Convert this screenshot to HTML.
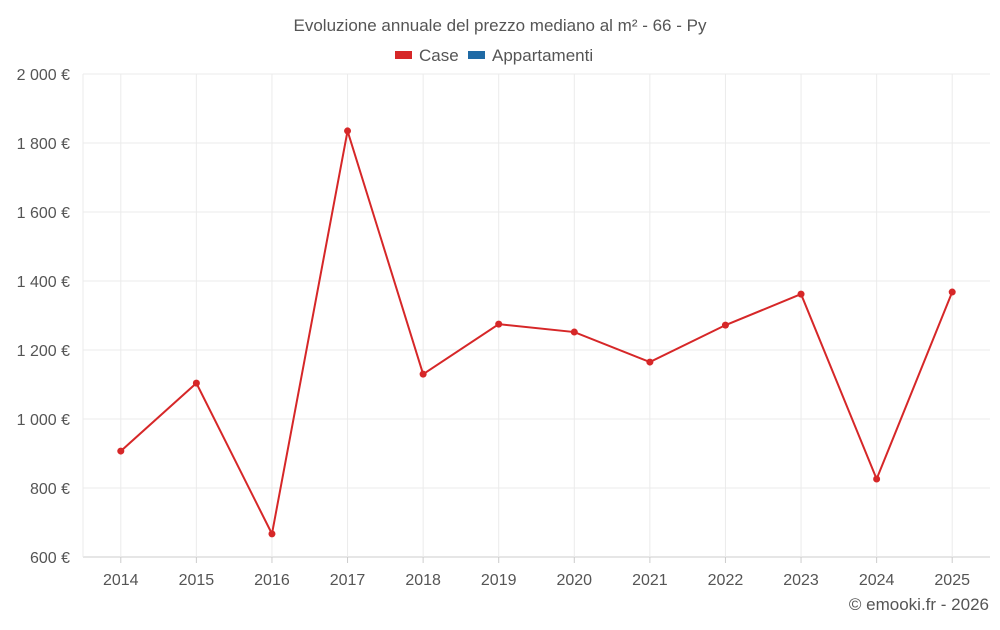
<!DOCTYPE html>
<html><head><meta charset="utf-8"><style>
body{margin:0;background:#fff;width:1000px;height:625px;overflow:hidden;font-family:"Liberation Sans",sans-serif}
</style></head><body>
<svg id="chart" width="1000" height="625" xmlns="http://www.w3.org/2000/svg" font-family="Liberation Sans, sans-serif">
<text x="500" y="31" text-anchor="middle" font-size="17" fill="#555">Evoluzione annuale del prezzo mediano al m² - 66 - Py</text>
<g>
<rect x="395" y="51" width="17" height="8" fill="#d62728"/>
<text x="419" y="61" font-size="17" fill="#555">Case</text>
<rect x="468" y="51" width="17" height="8" fill="#1f6aa5"/>
<text x="492" y="61" font-size="17" fill="#555">Appartamenti</text>
</g>
<g id="grid"></g><g id="axes"></g><g id="series"></g>
<text x="989" y="610" text-anchor="end" font-size="17" fill="#555">© emooki.fr - 2026</text>
</svg>
<script>
const years=["2014","2015","2016","2017","2018","2019","2020","2021","2022","2023","2024","2025"];
const caseValues=[907,1104,667,1835,1130,1275,1252,1165,1272,1362,826,1368];
const yTicks=[600,800,1000,1200,1400,1600,1800,2000];
const yTickLabels=["600 €","800 €","1 000 €","1 200 €","1 400 €","1 600 €","1 800 €","2 000 €"];
const NS="http://www.w3.org/2000/svg";
const L=83,R=990,T=74,B=557,yMin=600,yMax=2000;
const bw=(R-L)/years.length;
function x(i){return L+bw*(i+0.5);}
function y(v){return B-(v-yMin)/(yMax-yMin)*(B-T);}
function mk(t,a,p){const e=document.createElementNS(NS,t);for(const k in a)e.setAttribute(k,a[k]);p.appendChild(e);return e;}
const g=document.getElementById('grid'),ax=document.getElementById('axes'),s=document.getElementById('series');
yTicks.forEach((v,i)=>{
 const l=mk('line',{x1:L,x2:R,y1:y(v),y2:y(v),stroke:v===yMin?'#ccc':'#ebebeb'},g);
 
 
 const t=mk('text',{x:70,y:y(v)+6,'text-anchor':'end','font-size':16,fill:'#555'},ax);
 t.textContent=yTickLabels[i];
 
 
});
const lb=mk('line',{x1:L,x2:L,y1:T,y2:B,stroke:'#ebebeb'},g);


years.forEach((yr,i)=>{
 const l=mk('line',{x1:x(i),x2:x(i),y1:T,y2:B,stroke:'#ebebeb'},g);
 
 
 const t=mk('text',{x:x(i),y:585,'text-anchor':'middle','font-size':16,fill:'#555'},ax);
 t.textContent=yr;
 
 
 const tk=mk('line',{x1:x(i),x2:x(i),y1:B,y2:B+6,stroke:'#ccc'},ax);
 
 
});
const pl=mk('polyline',{points:caseValues.map((v,i)=>x(i)+','+y(v)).join(' '),fill:'none',stroke:'#d62728','stroke-width':2},s);


caseValues.forEach((v,i)=>{
 const c=mk('circle',{cx:x(i),cy:y(v),r:3.5,fill:'#d62728'},s);
 
 
});
</script>
</body></html>
